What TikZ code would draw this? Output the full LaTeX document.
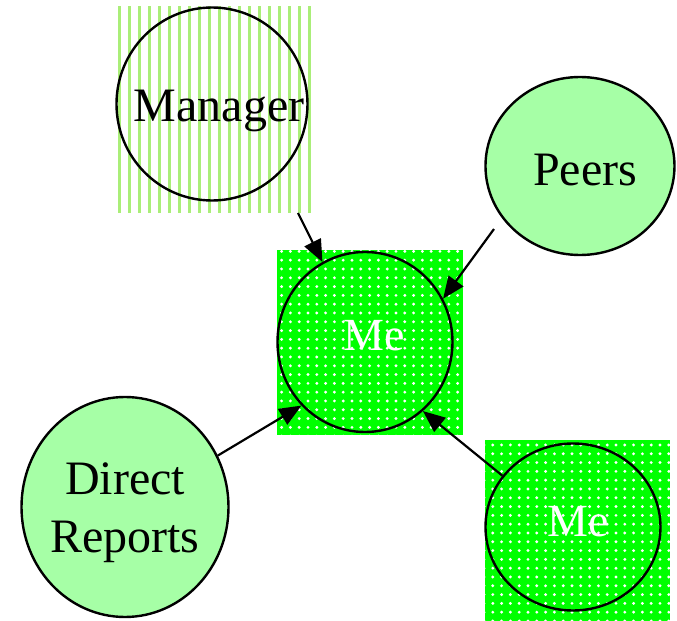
\documentclass[tikz,border=0pt]{standalone}
\usepackage{fontspec}
\setmainfont{Liberation Serif}
\usetikzlibrary{shapes.geometric,arrows.meta,patterns.meta}
\definecolor{lightg}{RGB}{166,255,166}
\definecolor{brightg}{RGB}{0,255,0}
\definecolor{stripeg}{RGB}{170,238,120}
\newcommand{\placetext}[3]{\makebox[0pt]{\hspace{#1}\smash{\raisebox{#2}{#3}}}}
\begin{document}
\begin{tikzpicture}[x=0.5pt,y=-0.5pt,
  bubble/.style={ellipse, draw=black, line width=1.2pt, inner sep=0pt, font=\fontsize{24}{29}\selectfont, align=center},
  soft/.style={bubble, fill=lightg},
  mebubble/.style={bubble, text=white, font=\fontsize{23}{28}\selectfont},
  dotbg/.style={fill=brightg, postaction={pattern={Dots[radius=0.8pt,distance=4.4pt]}, pattern color=white}},
  stripebg/.style={pattern={Lines[angle=90,distance=5pt,line width=1.5pt]}, pattern color=stripeg},
  link/.style={-{Triangle[length=11pt,width=9pt]}, line width=1.1pt}]
\useasboundingbox (0,0) rectangle (677,621);
% backgrounds
\path[stripebg] (118,7) rectangle (317,213);
\path[dotbg] (277,250) rectangle (463,435);
\path[dotbg] (485,440) rectangle (670,621);
% nodes
\node[bubble, minimum width=95.5pt, minimum height=96.5pt] (manager) at (212,104) {\placetext{7pt}{-9pt}{Manager}};
\node[soft, minimum width=94.5pt, minimum height=89pt] (peers) at (580,166) {\placetext{5pt}{-9.5pt}{Peers}};
\node[mebubble, minimum width=87.5pt, minimum height=90pt] (me) at (365,342) {\placetext{9pt}{-4.5pt}{Me}};
\node[soft, minimum width=103.5pt, minimum height=110pt] (dr) at (125,507) {\placetext{0pt}{6pt}{\begin{tabular}[t]{@{}c@{}}Direct\\Reports\end{tabular}}};
\node[mebubble, minimum width=87.5pt, minimum height=83.5pt] (me2) at (573,527) {\placetext{5pt}{-5pt}{Me}};
% tails
\coordinate (mgrTail) at (298,213);
\coordinate (peersTail) at (494,229);
% connectors
\draw[link] (mgrTail) -- (me.118);
\draw[link] (peersTail) -- (me.29);
\draw[link] (dr.29) -- (me.225);
\draw[link] (me2.144) -- (me.-50);
\end{tikzpicture}
\end{document}
